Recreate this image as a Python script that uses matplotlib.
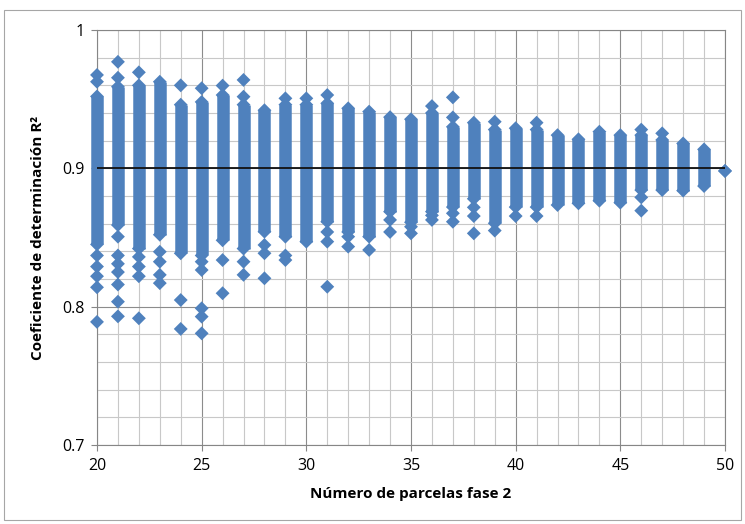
import numpy as np
import matplotlib.pyplot as plt
from matplotlib.patches import Rectangle

# number of plots in phase 2 (one column of results per value)
parcelas = list(range(20, 51))

# dense part of each column (lowest and highest value of the packed diamonds)
core_lo = [0.845, 0.859, 0.842, 0.852, 0.8386, 0.837, 0.848, 0.842, 0.8542, 0.8506,
           0.847, 0.8614, 0.854, 0.8506, 0.8687, 0.861, 0.8687, 0.872, 0.878, 0.8603,
           0.872, 0.872, 0.8735, 0.8747, 0.8766, 0.8752, 0.8843, 0.8843, 0.8839, 0.8872,
           0.8981]
core_hi = [0.952, 0.959, 0.960, 0.9626, 0.946, 0.948, 0.953, 0.946, 0.942, 0.946,
           0.946, 0.947, 0.9434, 0.941, 0.937, 0.9355, 0.940, 0.930, 0.933, 0.928,
           0.929, 0.928, 0.924, 0.921, 0.9265, 0.924, 0.924, 0.9205, 0.918, 0.9137,
           0.8981]

# isolated diamonds outside the dense part
extra_x = [20, 20, 20, 20, 20, 20, 20,
           21, 21, 21, 21, 21, 21, 21, 21, 21,
           22, 22, 22, 22, 22,
           23, 23, 23, 23,
           24, 24, 24,
           25, 25, 25, 25, 25, 25,
           26, 26, 26,
           27, 27, 27, 27,
           28, 28, 28,
           29, 29, 29,
           30,
           31, 31, 31, 31,
           32, 32,
           33,
           34, 34,
           35, 35,
           36, 36, 36,
           37, 37, 37, 37,
           38, 38, 38,
           39, 39,
           40,
           41, 41,
           46, 46, 46,
           47]
extra_y = [0.9675, 0.9626, 0.837, 0.829, 0.822, 0.814, 0.789,
           0.977, 0.9655, 0.8506, 0.837, 0.831, 0.825, 0.816, 0.8036, 0.793,
           0.9694, 0.836, 0.829, 0.822, 0.7916,
           0.8397, 0.8325, 0.823, 0.817,
           0.960, 0.8048, 0.7839,
           0.9579, 0.8325, 0.8265, 0.7988, 0.7928, 0.7807,
           0.9598, 0.8337, 0.8097,
           0.9639, 0.9518, 0.8325, 0.823,
           0.8446, 0.8386, 0.8205,
           0.9506, 0.837, 0.8337,
           0.9506,
           0.953, 0.854, 0.847, 0.8144,
           0.8506, 0.8434,
           0.841,
           0.8627, 0.854,
           0.8578, 0.853,
           0.945, 0.866, 0.8627,
           0.9513, 0.9368, 0.8675, 0.8614,
           0.8718, 0.8655, 0.853,
           0.9337, 0.855,
           0.8655,
           0.933, 0.8655,
           0.928, 0.879, 0.8694,
           0.9253]

r2_ref = 0.9
blue = '#4F81BD'
tick_font = ['Open Sans', 'DejaVu Sans']

fig = plt.figure(figsize=(7.45, 5.24), dpi=100)
ax = fig.add_axes([97/745, 1-445/524, (725-97)/745, (445-30)/524])

# outer chart border
fig.patches.append(Rectangle((4/745, 1-520/524), 737/745, 510/524, transform=fig.transFigure,
                             fill=False, edgecolor='#a6a6a6', linewidth=0.8))

# grid: every unit / 0.02, darker every 5 / 0.1
ax.set_xticks(np.arange(20, 51, 5))
ax.set_xticks(np.arange(20, 51, 1), minor=True)
ax.set_yticks([0.7, 0.8, 0.9, 1.0])
ax.set_yticks(np.arange(0.7, 1.001, 0.02), minor=True)
ax.set_yticklabels(['0.7', '0.8', '0.9', '1'])
ax.grid(which='minor', color='#c8c8c8', linewidth=0.8)
ax.grid(which='major', color='#8c8c8c', linewidth=0.8)
ax.set_axisbelow(True)

ax.vlines(parcelas, core_lo, core_hi, colors=blue, linewidth=9, zorder=3, clip_on=False)
ax.scatter(parcelas, core_lo, marker='D', s=50, color=blue, edgecolors='none', zorder=3, clip_on=False)
ax.scatter(parcelas, core_hi, marker='D', s=50, color=blue, edgecolors='none', zorder=3, clip_on=False)
ax.scatter(extra_x, extra_y, marker='D', s=50, color=blue, edgecolors='none', zorder=3, clip_on=False)

ax.plot([parcelas[0], parcelas[-1]], [r2_ref, r2_ref], color='#111111', linewidth=1.3, zorder=4)

ax.set_xlim(20, 50)
ax.set_ylim(0.7, 1.0)
for s in ax.spines.values():
    s.set_color('#868686')
    s.set_linewidth(0.8)
ax.tick_params(which='major', length=4, color='#868686', labelsize=11.5, pad=5)
ax.tick_params(which='minor', length=0)
for lab in ax.get_xticklabels() + ax.get_yticklabels():
    lab.set_family(tick_font)

ax.set_xlabel('Número de parcelas fase 2', fontsize=11, fontweight='bold', labelpad=10,
              family=['Open Sans', 'DejaVu Sans'])
ax.set_ylabel('Coeficiente de determinación R²', fontsize=11, fontweight='bold', labelpad=12,
              family=['Open Sans', 'DejaVu Sans'])

fig.savefig('out.png', dpi=100)
